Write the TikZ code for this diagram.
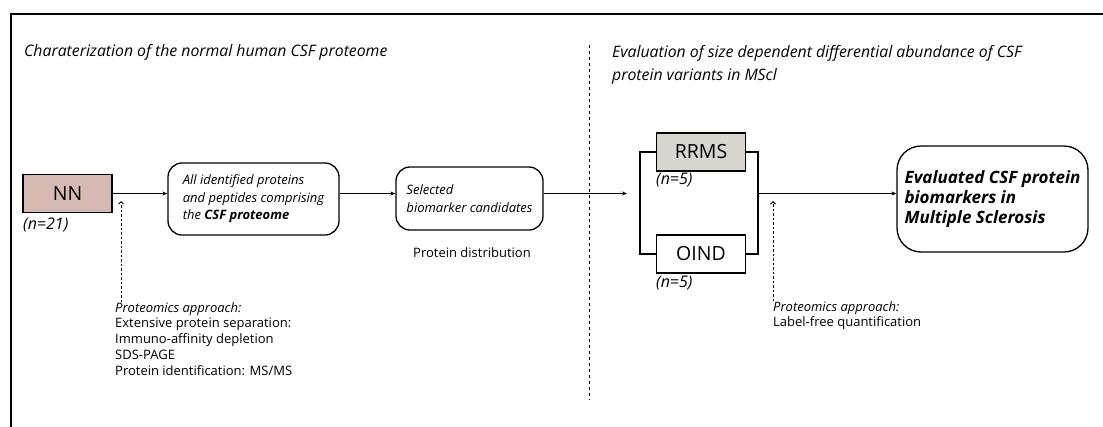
\documentclass[tikz,border=0pt]{standalone}
\usepackage{fontspec}
\setmainfont{Open Sans}
\usetikzlibrary{arrows.meta}
\definecolor{nnfill}{HTML}{D6BAB2}
\definecolor{rrmsfill}{HTML}{D9D6CF}
\begin{document}
\begin{tikzpicture}[x=1pt, y=-1pt,
    flow/.style={line width=1pt, -{Stealth[length=5pt, width=4pt]}},
    hint/.style={line width=1pt, dash pattern=on 2.5pt off 2pt,
      -{Straight Barb[length=2.5pt, width=5pt]}},
    group/.style={draw, line width=1.3pt, minimum width=89pt,
      minimum height=38pt, inner sep=0pt, font=\fontsize{19.5}{19.5}\selectfont},
    stage/.style={draw, line width=1.3pt, rounded corners=14pt, align=left,
      inner sep=0pt, font=\fontsize{13}{17.5}\selectfont\itshape},
    count/.style={anchor=west, inner sep=0pt,
      font=\fontsize{16}{16}\selectfont\itshape},
    note/.style={anchor=north west, inner sep=0pt, align=left,
      font=\fontsize{13}{15.8}\selectfont},
    heading/.style={anchor=north west, inner sep=0pt, align=left,
      font=\fontsize{15.8}{23.5}\selectfont\itshape}]
  \useasboundingbox (0,0) rectangle (1103,426);
  % frame and the dashed divider
  \draw[line width=2pt] (11,440) -- (11,14) -- (1120,14);
  \draw[line width=1pt, dash pattern=on 3pt off 3pt] (589,45) -- (589,400);

  \node[heading] (leftT) at (24,44) {Charaterization of the normal human CSF proteome};
  \node[heading] (rightT) at (612,45) {Evaluation of size dependent differential abundance of CSF\\protein variants in MScl};

  % left half
  \node[group, fill=nnfill] (nn) at (67.5,193.5) {NN};
  \node[count] (nnN) at (23,225) {(n=21)};
  \node[stage, minimum width=171pt, minimum height=72pt] (all)
    at (253.5,199) {All identified proteins\\and peptides comprising\\the \textbf{CSF proteome}};
  \node[stage, minimum width=147pt, minimum height=63pt] (sel)
    at (469.5,198.5) {Selected\\biomarker candidates};
  \node[note, anchor=center] (dist) at (472,253) {Protein distribution};
  \node[note] (methA) at (115,302) {\textit{Proteomics approach:}\\Extensive protein separation:\\
    Immuno-affinity depletion\\SDS-PAGE\\Protein identification: MS/MS};
  \coordinate (tipA) at (121,201);

  % right half
  \node[group, fill=rrmsfill] (rrms) at (701,152) {RRMS};
  \node[group] (oind) at (701,254) {OIND};
  \node[count] (rrmsN) at (656,180) {(n=5)};
  \node[count] (oindN) at (656,283) {(n=5)};
  \coordinate (split) at (640,193.5);
  \coordinate (join) at (758,193.5);
  \node[stage, minimum width=191pt, minimum height=106pt, rounded corners=24pt,
    font=\fontsize{17}{20}\selectfont\bfseries\itshape] (eval)
    at (992.5,199) {Evaluated CSF protein\\biomarkers in\\Multiple Sclerosis};
  \node[note] (methB) at (773,301) {\textit{Proteomics approach:}\\Label-free quantification};
  \coordinate (tipB) at (773,201);

  % connectors
  \draw[flow] (nn.east) -- (nn.east -| all.west);
  \draw[flow] (all.east |- nn.east) -- (sel.west |- nn.east);
  \draw[flow, shorten >=13pt] (sel.east |- split) -- (split);
  \draw[line width=1.3pt] (rrms.west) -| (split) |- (oind.west);
  \draw[line width=1.3pt] (rrms.east) -| (join) |- (oind.east);
  \draw[flow] (join) -- (join -| eval.west);
  \draw[hint] (methA.north west -| tipA) -- (tipA);
  \draw[hint] (methB.north west -| tipB) -- (tipB);
\end{tikzpicture}
\end{document}
